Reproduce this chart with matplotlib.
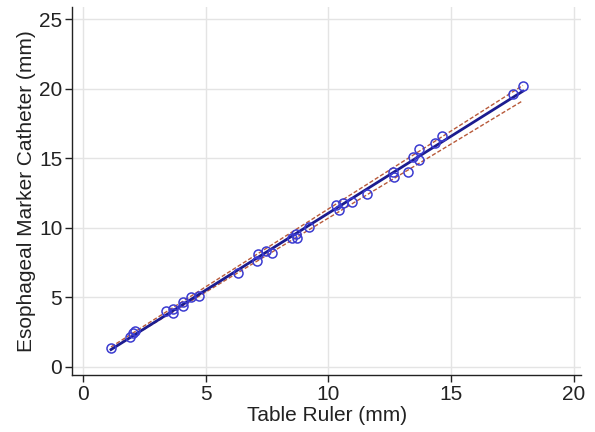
import numpy as np
import matplotlib
matplotlib.use("Agg")
import matplotlib.pyplot as plt

plt.rcParams['font.family'] = ['Liberation Sans', 'DejaVu Sans']

# =========================
# data
# =========================
ruler = [1.14, 1.91, 2.04, 2.12, 3.38, 3.67, 3.67, 4.07, 4.07, 4.40, 4.72,
         6.31, 7.09, 7.13, 7.45, 7.70, 8.51, 8.72, 8.68, 9.21,
         10.31, 10.43, 10.59, 10.96, 11.57,
         12.63, 12.67, 13.24, 13.44, 13.69, 13.69, 14.34, 14.62, 17.52, 17.92]
catheter = [1.35, 2.14, 2.42, 2.57, 4.01, 4.15, 3.86, 4.65, 4.37, 5.01, 5.09,
            6.74, 7.60, 8.11, 8.32, 8.18, 9.26, 9.26, 9.55, 10.05,
            11.63, 11.27, 11.78, 11.85, 12.42,
            14.01, 13.65, 14.01, 15.09, 15.66, 14.87, 16.09, 16.60, 19.61, 20.19]

# dashed limit lines, endpoints
lim_x = [1.14, 17.92]
upper_y = [1.42, 20.25]
lower_y = [1.25, 19.15]

x_ticks = [0, 5, 10, 15, 20]
y_ticks = [0, 5, 10, 15, 20, 25]

# =========================
# plot
# =========================
fig = plt.figure(figsize=(5.95, 4.32), dpi=100)
ax = fig.add_axes([0.121, 0.132, 0.856, 0.852])

slope, icpt = np.polyfit(ruler, catheter, 1)
fx = np.array([min(ruler), max(ruler)])

ax.plot(lim_x, upper_y, color='#b85a3a', lw=1.0, ls=(0, (3, 1.5)), zorder=3)
ax.plot(lim_x, lower_y, color='#b85a3a', lw=1.0, ls=(0, (3, 1.5)), zorder=3)
ax.plot(fx, slope * fx + icpt, color='#1c1c8f', lw=2.0, zorder=4)
ax.plot(ruler, catheter, 'o', mfc='none', mec='#3b3bd0', ms=6.5, mew=1.1, zorder=5)

ax.set_xlim(-0.45, 20.3)
ax.set_ylim(-0.6, 25.9)
ax.set_xticks(x_ticks)
ax.set_yticks(y_ticks)
ax.grid(True, color='#e4e4e4', lw=1.0)
ax.set_axisbelow(True)

for s in ['top', 'right']:
    ax.spines[s].set_visible(False)
for s in ['left', 'bottom']:
    ax.spines[s].set_color('#222222')
    ax.spines[s].set_linewidth(1.0)

ax.tick_params(axis='both', direction='out', length=5, width=1.0,
               color='#222222', labelsize=15, labelcolor='#222222', pad=2)
ax.set_xlabel("Table Ruler (mm)", fontsize=15, color='#222222', labelpad=2)
ax.set_ylabel("Esophageal Marker Catheter (mm)", fontsize=15, color='#222222', labelpad=2)

fig.savefig("out.png", dpi=100)
plt.close(fig)
